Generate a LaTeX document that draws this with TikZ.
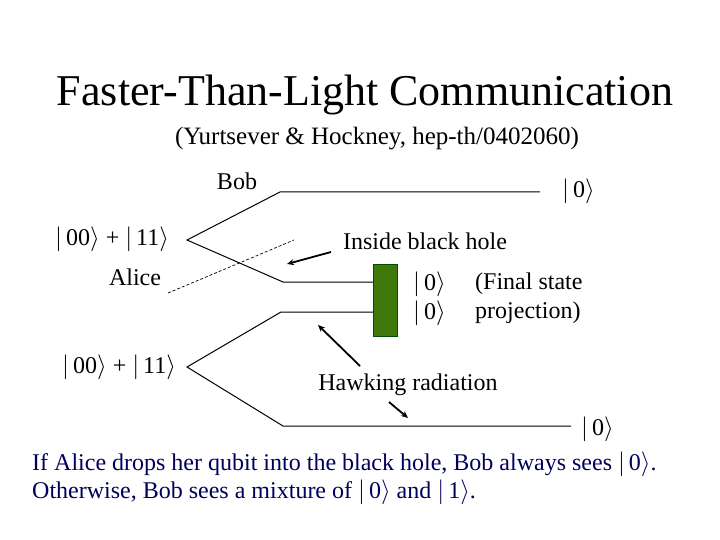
\documentclass[tikz,border=0pt]{standalone}
\usepackage{fontspec}
\setmainfont{Liberation Serif}
\usetikzlibrary{arrows.meta}
\definecolor{bhgreen}{RGB}{62,120,8}
\definecolor{navy}{RGB}{0,0,90}
\newcommand{\kt}[1]{$\big\vert$\,#1$\rangle$}
\tikzset{
  wire/.style={draw=black, line width=1pt},
  txt/.style={inner sep=0pt, font=\fontsize{24}{28}\selectfont},
  pointer/.style={draw=black, line width=1.8pt, -{Stealth[length=7pt,width=6pt]}},
}
\begin{document}
\begin{tikzpicture}[x=1pt,y=-1pt]
\useasboundingbox (0,0) rectangle (720,540);
\node[inner sep=0pt, font=\fontsize{44}{50}\selectfont] (title) at (365,95) {Faster-Than-Light Communication};
\node[txt, font=\fontsize{25}{29}\selectfont] (sub) at (377,139) {(Yurtsever \& Hockney, hep-th/0402060)};
\node[txt] (bob) at (237,181) {Bob};
\node[txt] (alice) at (135,277) {Alice};
\node[txt, anchor=west] (e1) at (55,239) {\kt{00} + \kt{11}};
\node[txt, anchor=west] (e2) at (62,367) {\kt{00} + \kt{11}};
% wires
\coordinate (a1) at (187,240);
\coordinate (t1) at (280,192);
\coordinate (t2) at (540,192);
\coordinate (m1) at (283,282);
\coordinate (a2) at (187,367);
\coordinate (m2) at (281,312);
\coordinate (b1) at (283,426);
\coordinate (b2) at (571,426);
\node[draw=black!70!green, fill=bhgreen, minimum width=24pt, minimum height=72pt, inner sep=0pt] (bh) at (385,300) {};
\draw[wire] (t2) -- (t1) -- (a1) -- (m1) -- (m1 -| bh.west);
\draw[wire] (m2 -| bh.west) -- (m2) -- (a2) -- (b1) -- (b2);
\coordinate (d1) at (168,293);
\coordinate (d2) at (294,240);
\draw[line width=0.7pt, dash pattern=on 3pt off 2pt] (d1) -- (d2);
\node[txt, anchor=west] (k1) at (562,191) {\kt{0}};
\node[txt, anchor=west] (k2) at (413,284) {\kt{0}};
\node[txt, anchor=west] (k3) at (413,313) {\kt{0}};
\node[txt, anchor=west] (k4) at (581,429) {\kt{0}};
\node[txt, anchor=west] (fs1) at (475,284) {(Final state};
\node[txt, anchor=west] (fs2) at (475,313) {projection)};
\node[txt] (inside) at (425,241) {Inside black hole};
\node[txt] (hawk) at (408,385) {Hawking radiation};
\coordinate (p1s) at (331,252);
\coordinate (p1e) at (287,264);
\draw[pointer] (p1s) -- (p1e);
\coordinate (p2s) at (360,366);
\coordinate (p2e) at (318,325);
\draw[pointer] (p2s) -- (p2e);
\coordinate (p3s) at (389,402);
\coordinate (p3e) at (408,418);
\draw[pointer] (p3s) -- (p3e);
\node[txt, anchor=west, text=navy] (c1) at (32,464) {If Alice drops her qubit into the black hole, Bob always sees \kt{0}.};
\node[txt, anchor=west, text=navy] (c2) at (32,492) {Otherwise, Bob sees a mixture of \kt{0} and \kt{1}.};
\end{tikzpicture}
\end{document}
